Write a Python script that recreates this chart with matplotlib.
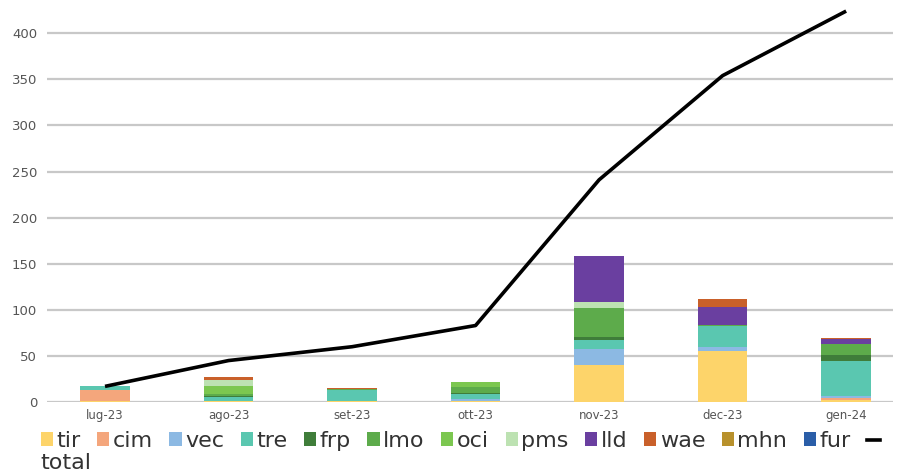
import matplotlib
matplotlib.use("Agg")
import matplotlib.pyplot as plt
import numpy as np
from matplotlib.patches import Patch
from matplotlib.lines import Line2D

plt.rcParams['font.family'] = ['DejaVu Sans']

months = ["lug-23", "ago-23", "set-23", "ott-23", "nov-23", "dec-23", "gen-24"]

# stacked series, bottom to top
tir = [1, 1, 1, 1, 40, 55, 2]
cim = [12, 0, 0, 0, 0, 0, 2]
vec = [0, 0, 0, 2, 18, 5, 3]
tre = [4, 5, 12, 6, 9, 22, 37]
frp = [0, 1, 0, 1, 4, 0, 7]
lmo = [0, 2, 1, 6, 31, 2, 12]
oci = [0, 8, 0, 6, 0, 0, 0]
pms = [0, 7, 0, 0, 6, 0, 0]
lld = [0, 0, 0, 0, 50, 19, 5]
wae = [0, 3, 1, 0, 0, 9, 1]
mhn = [0, 0, 0, 0, 0, 0, 1]
fur = [0, 0, 0, 0, 0, 0, 0]
total = [17, 45, 60, 83, 241, 354, 424]

series_names = ["tir", "cim", "vec", "tre", "frp", "lmo", "oci", "pms", "lld", "wae", "mhn", "fur"]
series_vals = [tir, cim, vec, tre, frp, lmo, oci, pms, lld, wae, mhn, fur]
colors = ["#fdd46a", "#f4a67c", "#8cb9e3", "#5ac7b0", "#3f7d3a", "#5dab4b",
          "#7cc750", "#bde2b2", "#6a3fa0", "#c9602a", "#b8912c", "#2b5ea8"]

fig = plt.figure(figsize=(9.03, 4.73), dpi=100)
ax = fig.add_axes([0.052, 0.150, 0.937, 0.848])

x = np.arange(len(months))
bottom = np.zeros(len(months))
for name, vals, c in zip(series_names, series_vals, colors):
    vals = np.array(vals, dtype=float)
    ax.bar(x, vals, 0.4, bottom=bottom, color=c, linewidth=0, zorder=2)
    bottom += vals

ax.plot(x, total, color="black", lw=2.6, zorder=3, solid_capstyle="butt")

ax.set_ylim(0, 435)
ax.set_xlim(-0.47, 6.38)
ax.set_yticks(range(0, 401, 50))
ax.set_xticks(x)
ax.set_xticklabels(months)
ax.yaxis.grid(True, color="#c8c8c8", lw=1.6, zorder=0)
ax.set_axisbelow(True)
for s in ax.spines.values():
    s.set_visible(False)
ax.tick_params(axis="both", length=0, colors="#555555")
ax.tick_params(axis="y", pad=7, labelsize=9.5)
ax.tick_params(axis="x", pad=5, labelsize=8.5)

handles = [Patch(facecolor=c, edgecolor="none") for c in colors]
handles.append(Line2D([0], [0], color="black", lw=2.6))
labels = series_names + [""]
fig.legend(handles, labels, loc="center left", bbox_to_anchor=(0.045, 0.068),
           ncol=13, frameon=False, fontsize=16, handlelength=0.55, handleheight=0.55,
           handletextpad=0.15, columnspacing=0.75, borderaxespad=0, borderpad=0,
           labelcolor="#333333")
fig.text(0.045, 0.022, "total", fontsize=16, color="#333333", va="center", ha="left")

fig.savefig("out.png", dpi=100)
